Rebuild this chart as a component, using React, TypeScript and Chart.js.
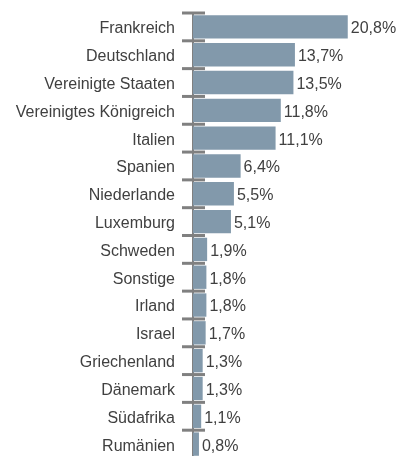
import React, { useEffect, useRef } from "react";
import { Chart, registerables } from "chart.js";

Chart.register(...registerables);

const categories = [
  "Frankreich",
  "Deutschland",
  "Vereinigte Staaten",
  "Vereinigtes Königreich",
  "Italien",
  "Spanien",
  "Niederlande",
  "Luxemburg",
  "Schweden",
  "Sonstige",
  "Irland",
  "Israel",
  "Griechenland",
  "Dänemark",
  "Südafrika",
  "Rumänien",
];
const values = [20.8, 13.7, 13.5, 11.8, 11.1, 6.4, 5.5, 5.1, 1.9, 1.8, 1.8, 1.7, 1.3, 1.3, 1.1, 0.8];

const FONT = "'Liberation Sans', Arial, sans-serif";
const TEXT = "#404040";
const AXIS = "#808080";

const fmt = (v: number) => v.toFixed(1).replace(".", ",") + "%";

const decorPlugin = {
  id: "decor",
  afterDatasetsDraw(chart: any) {
    const ctx = chart.ctx;
    const y = chart.scales.y;
    const left = chart.chartArea.left;
    ctx.save();
    ctx.strokeStyle = AXIS;
    ctx.lineWidth = 3;
    const n = categories.length;
    const step = y.getPixelForValue(1) - y.getPixelForValue(0);
    for (let i = 0; i < n; i++) {
      const p = y.getPixelForValue(i) - step / 2;
      ctx.beginPath();
      ctx.moveTo(left - 11, p);
      ctx.lineTo(left + 12, p);
      ctx.stroke();
    }
    ctx.fillStyle = TEXT;
    ctx.font = `16px ${FONT}`;
    ctx.textBaseline = "middle";
    ctx.textAlign = "left";
    const meta = chart.getDatasetMeta(0);
    meta.data.forEach((bar: any, i: number) => {
      ctx.fillText(fmt(values[i]), bar.x + 3, bar.y + 2);
    });
    ctx.restore();
  },
};

export default function App() {
  const ref = useRef<HTMLCanvasElement>(null);
  useEffect(() => {
    document.body.style.margin = "0";
    document.body.style.overflow = "hidden";
    const chart = new Chart(ref.current!, {
      type: "bar",
      data: {
        labels: categories,
        datasets: [
          {
            data: values,
            backgroundColor: "#8299ab",
            barPercentage: 0.84,
            categoryPercentage: 1,
          },
        ],
      },
      options: {
        indexAxis: "y",
        animation: false,
        responsive: false,
        layout: { padding: { top: 13, right: 30, bottom: 0, left: 0 } },
        plugins: { legend: { display: false }, tooltip: { enabled: false } },
        scales: {
          x: { display: false, min: 0, max: 25 },
          y: {
            grid: { display: false, drawTicks: false },
            border: { display: true, color: AXIS, width: 2 },
            ticks: { color: TEXT, font: { family: FONT, size: 16 }, padding: 18, labelOffset: 2 },
            afterFit(scale: any) {
              scale.width = 193;
              scale.paddingTop = 0;
              scale.paddingBottom = 0;
            },
          },
        },
      },
      plugins: [decorPlugin],
    });
    return () => chart.destroy();
  }, []);
  return (
    <div style={{ width: 409, height: 458 }}>
      <canvas ref={ref} width={409} height={458} style={{ display: "block" }} />
    </div>
  );
}
